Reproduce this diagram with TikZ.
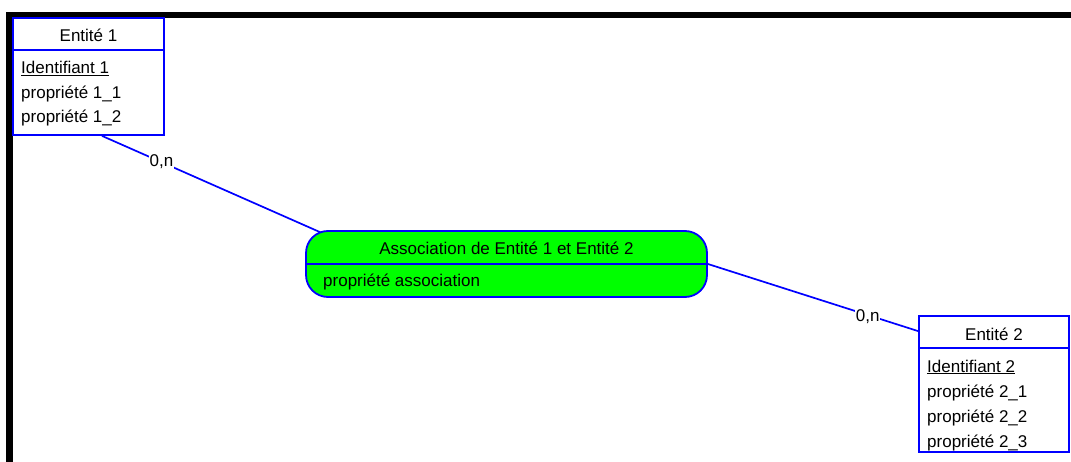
\documentclass[tikz,border=0pt]{standalone}
\usepackage{fontspec}
\setmainfont{Liberation Sans}
\usetikzlibrary{backgrounds}
\definecolor{merisebleu}{RGB}{0,0,255}
\definecolor{merisevert}{RGB}{0,255,0}
\begin{document}
\begin{tikzpicture}[x=1pt,y=-1pt,
  entite/.style={draw=merisebleu, line width=1.8pt, fill=white, rectangle, inner sep=0pt},
  assocbox/.style={draw=merisebleu, line width=1.8pt, fill=merisevert, rectangle,
    rounded corners=22pt, inner sep=0pt, minimum width=401pt, minimum height=66pt},
  sep/.style={draw=merisebleu, line width=1.8pt},
  lien/.style={draw=merisebleu, line width=1.7pt},
  txt/.style={inner sep=0pt, font=\fontsize{17}{20}\selectfont},
  card/.style={txt, fill=white, inner sep=1pt}]
\useasboundingbox (0,0) rectangle (1071,462);

% page frame (top and left edges)
\fill[black] (6,12) rectangle (1071,18);
\fill[black] (6,12) rectangle (13,462);

% Entité 1
\node[entite, minimum width=151pt, minimum height=117pt] (e1) at (88.5,76.5) {};
\draw[sep] ([yshift=-33pt]e1.north west) -- ([yshift=-33pt]e1.north east);
\node[txt, anchor=base] (e1t) at (88.5,41.5) {Entité 1};
\node[txt, anchor=base west] (e1a) at (21,73.5) {\underline{Identifiant 1}};
\node[txt, anchor=base west] (e1b) at (21,98.5) {propriété 1\_1};
\node[txt, anchor=base west] (e1c) at (21,123) {propriété 1\_2};

% Association
\node[assocbox] (as) at (506.5,264) {};
\draw[sep] (as.west) -- (as.east);
\node[txt, anchor=base] (ast) at (506.5,255) {Association de Entité 1 et Entité 2};
\node[txt, anchor=base west] (asa) at (323,287) {propriété association};

% Entité 2
\node[entite, minimum width=150pt, minimum height=136pt] (e2) at (994,384) {};
\draw[sep] ([yshift=-33pt]e2.north west) -- ([yshift=-33pt]e2.north east);
\node[txt, anchor=base] (e2t) at (994,341) {Entité 2};
\node[txt, anchor=base west] (e2a) at (927,372) {\underline{Identifiant 2}};
\node[txt, anchor=base west] (e2b) at (927,397) {propriété 2\_1};
\node[txt, anchor=base west] (e2c) at (927,422) {propriété 2\_2};
\node[txt, anchor=base west] (e2d) at (927,447) {propriété 2\_3};

% links with cardinalities
\begin{scope}[on background layer]
\draw[lien] ([xshift=13.5pt]e1.south) -- node[card, pos=0.27] (c1) {0,n}
  ([xshift=-184.5pt,yshift=31pt]as.center);
\draw[lien] (as.east) -- node[card, pos=0.76, yshift=-2pt] (c2) {0,n}
  ([yshift=-16pt]e2.north west);
\end{scope}
\end{tikzpicture}
\end{document}
